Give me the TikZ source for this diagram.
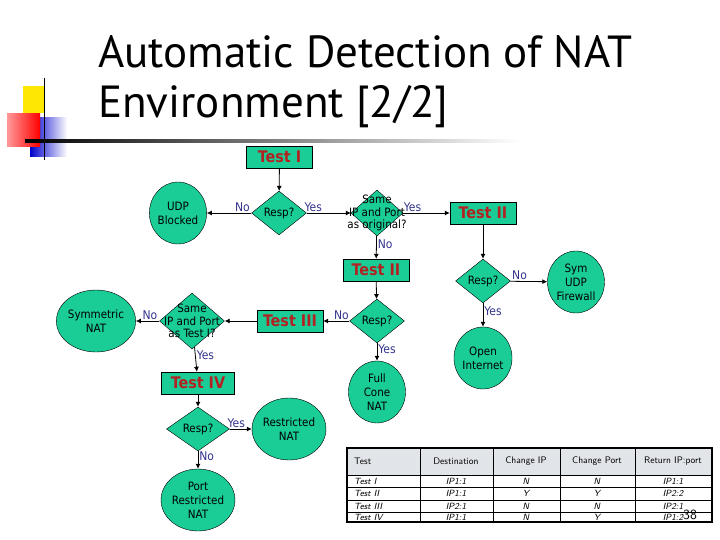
\documentclass[tikz,border=0pt]{standalone}
\usepackage{fontspec}
\setmainfont{DejaVu Sans Condensed}
\newfontfamily\titlefont{PT Sans}
\usetikzlibrary{shapes.geometric,arrows.meta}
\definecolor{nodegreen}{RGB}{26,204,150}
\definecolor{testred}{RGB}{178,34,34}
\definecolor{lblblue}{RGB}{51,51,140}
\definecolor{hdrgrey}{RGB}{225,228,232}
\tikzset{
  box/.style={draw, fill=nodegreen, minimum width=66pt, minimum height=22pt, inner sep=0pt,
    font=\fontsize{16}{16}\selectfont\bfseries, text=testred},
  dec/.style={draw, diamond, fill=nodegreen, inner sep=0pt, minimum width=55pt, minimum height=44pt,
    label={[font=\fontsize{11.5}{12.5}\selectfont, align=center, inner sep=0pt]center:#1}},
  res/.style={draw, ellipse, fill=nodegreen, inner sep=0pt, minimum width=57pt, minimum height=62pt,
    font=\fontsize{11.5}{14}\selectfont, align=center},
  arr/.style={-{Latex[length=5pt,width=5pt]}, thick},
  lbl/.style={text=lblblue, font=\fontsize{12}{12}\selectfont, inner sep=1pt},
  cell/.style={font=\fontsize{9.5}{9.5}\selectfont\sffamily, inner sep=0pt},
  icell/.style={font=\fontsize{9}{9}\selectfont\sffamily\itshape, inner sep=0pt},
}
\begin{document}
\begin{tikzpicture}[x=1pt,y=-1pt]
\useasboundingbox (0,0) rectangle (720,540);
% slide decoration
\fill[yellow!90!orange] (23,86) rectangle (45,113);
\shade[left color=blue!80!black, right color=white] (30,118) rectangle (67,157);
\shade[left color=red!40, right color=red] (7,114) rectangle (40,147);
\draw[thick] (44,78) -- (44,160);
\shade[left color=black, right color=white] (25,140) rectangle (520,142.5);
\node[anchor=base west, inner sep=0pt, font=\titlefont\fontsize{45}{45}\selectfont] (t1) at (98,68) {Automatic Detection of NAT};
\node[anchor=base west, inner sep=0pt, font=\titlefont\fontsize{45}{45}\selectfont] (t2) at (98,118) {Environment [2/2]};
% nodes
\node[box] (test1) at (279.5,157) {Test I};
\node[dec=Resp?] (resp1) at (279,213) {};
\node[res] (udp) at (178,213) {UDP\\Blocked};
\node[dec={Same\\IP and Port\\as original?}, minimum width=52pt, minimum height=46pt] (same1) at (377,213) {};
\node[box] (test2r) at (483,213) {Test II};
\node[box] (test2m) at (376,270) {Test II};
\node[dec=Resp?] (respr) at (483,281) {};
\node[res] (sym) at (576,282) {Sym\\UDP\\Firewall};
\node[res] (open) at (483,358) {Open\\Internet};
\node[dec=Resp?] (respm) at (377,321) {};
\node[box] (test3) at (290,321) {Test III};
\node[res] (full) at (377,392) {Full\\Cone\\NAT};
\node[dec={Same\\IP and Port\\as Test I?}, minimum width=65pt, minimum height=56pt] (same2) at (192,321) {};
\node[res, minimum width=62pt] (symnat) at (96,321) {Symmetric\\NAT};
\node[box, minimum width=73pt] (test4) at (198,383) {Test IV};
\node[dec=Resp?, minimum width=63pt] (respb) at (198,429) {};
\node[res, minimum width=62pt] (restr) at (289,429) {Restricted\\NAT};
\node[res, minimum width=62pt] (portr) at (198,500) {Port\\Restricted\\NAT};
% connectors
\draw[arr] (test1) -- (resp1);
\draw[arr] (resp1) -- node[lbl, above, pos=0.2] {No} (udp);
\draw[arr] (resp1) -- node[lbl, above, pos=0.15] {Yes} (same1);
\draw[arr] (same1) -- node[lbl, above, pos=0.2] {Yes} (test2r);
\draw[arr] (same1) -- node[lbl, right, pos=0.35] {No} (test2m);
\draw[arr] (test2r) -- (respr);
\draw[arr] (respr) -- node[lbl, above, pos=0.25] {No} (sym);
\draw[arr] (respr) -- node[lbl, right, pos=0.35] {Yes} (open);
\draw[arr] (test2m) -- (respm);
\draw[arr] (respm) -- node[lbl, above, pos=0.3] {No} (test3);
\draw[arr] (respm) -- node[lbl, right, pos=0.35] {Yes} (full);
\draw[arr] (test3) -- (same2);
\draw[arr] (same2) -- node[lbl, above, pos=0.4] {No} (symnat);
\draw[arr] (same2) -- node[lbl, right, pos=0.35] {Yes} (test4);
\draw[arr] (test4) -- (respb);
\draw[arr] (respb) -- node[lbl, above, pos=0.3] {Yes} (restr);
\draw[arr] (respb) -- node[lbl, right, pos=0.3] {No} (portr);
% table
\fill[hdrgrey] (347,448) rectangle (712,475);
\draw[line width=1.2pt] (347,448) rectangle (712,522);
\draw[line width=1pt] (347,475) -- (712,475);
\foreach \xx in {420,493,560,635} \draw[line width=1pt] (\xx,448) -- (\xx,522);
\foreach \yy in {487,500,512} \draw[line width=0.6pt] (347,\yy) -- (712,\yy);
\node[cell, anchor=west] (h1) at (354,461) {Test};
\node[cell] (h2) at (456,461) {Destination};
\node[cell] (h3) at (526,461) {Change IP};
\node[cell] (h4) at (597,461) {Change Port};
\node[cell] (h5) at (673,461) {Return IP:port};
\foreach \r/\yy/\a/\b/\c/\d/\e in {1/481/Test I/IP1:1/N/N/IP1:1, 2/493.5/Test II/IP1:1/Y/Y/IP2:2,
    3/506/Test III/IP2:1/N/N/IP2:1, 4/517/Test IV/IP1:1/N/Y/IP1:2}{
  \node[icell, anchor=west] (r\r a) at (354,\yy) {\a};
  \node[icell] (r\r b) at (456,\yy) {\b};
  \node[icell] (r\r c) at (526,\yy) {\c};
  \node[icell] (r\r d) at (597,\yy) {\d};
  \node[icell] (r\r e) at (673,\yy) {\e};
}
\node[font=\fontsize{14}{14}\selectfont\sffamily, inner sep=0pt] (pg) at (690,515) {38};
\end{tikzpicture}
\end{document}
